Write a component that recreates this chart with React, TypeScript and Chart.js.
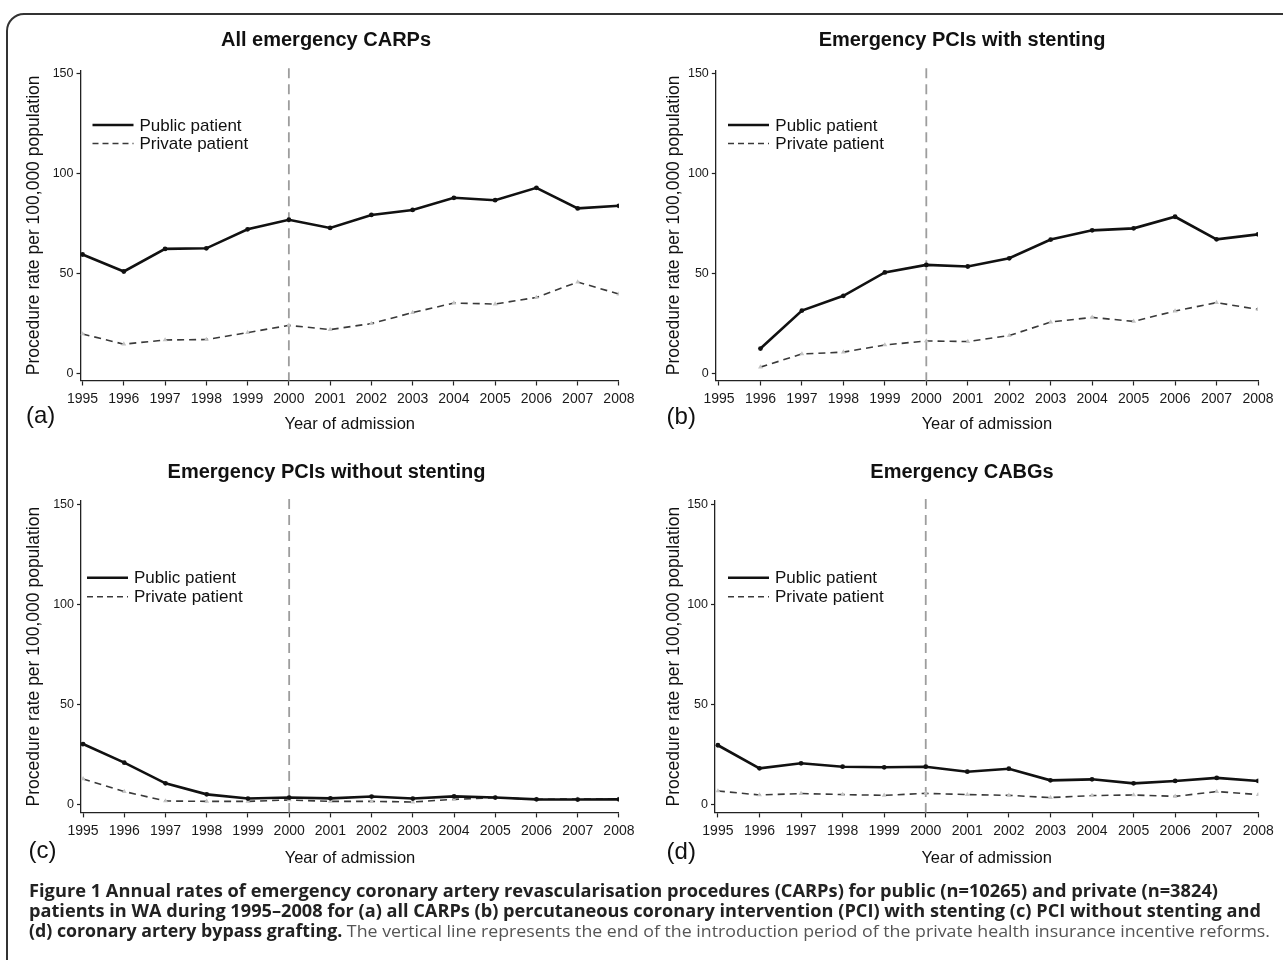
import React, { useEffect, useLayoutEffect, useRef } from 'react';
import { Chart, registerables } from 'chart.js';

Chart.register(...registerables);

// ---------- data ----------
const years = [1995, 1996, 1997, 1998, 1999, 2000, 2001, 2002, 2003, 2004, 2005, 2006, 2007, 2008];
const yTickValues = [0, 50, 100, 150];
const reformYear = 2000;

const allPublic = [59.4, 50.9, 62.2, 62.5, 72.0, 76.8, 72.7, 79.2, 81.7, 87.8, 86.6, 92.8, 82.5, 83.8];
const allPrivate = [19.6, 14.5, 16.6, 16.8, 20.3, 23.9, 21.8, 24.8, 30.3, 35.1, 34.6, 37.9, 45.6, 39.6];
const stentPublic = [null, 12.3, 31.3, 38.7, 50.4, 54.2, 53.4, 57.5, 66.9, 71.5, 72.5, 78.3, 67.0, 69.5];
const stentPrivate = [null, 3.0, 9.6, 10.5, 14.1, 16.1, 15.8, 18.8, 25.6, 27.9, 25.9, 31.1, 35.3, 31.9];
const noStentPublic = [30.4, 21.1, 10.8, 5.3, 3.2, 3.7, 3.3, 4.2, 3.2, 4.3, 3.7, 2.8, 2.7, 2.8];
const noStentPrivate = [13.0, 6.7, 2.0, 1.8, 1.8, 2.5, 1.8, 1.8, 1.5, 2.8, 3.7, 2.8, 3.0, 3.0];
const cabgPublic = [29.8, 18.3, 20.8, 19.1, 18.8, 19.1, 16.6, 18.1, 12.3, 12.8, 10.8, 12.0, 13.5, 12.0];
const cabgPrivate = [7.0, 5.0, 5.7, 5.2, 4.8, 5.8, 5.2, 4.8, 3.7, 4.7, 5.0, 4.3, 6.7, 5.2];

const seriesNames = ['Public patient', 'Private patient'];
const yAxisTitle = 'Procedure rate per 100,000 population';
const xAxisTitle = 'Year of admission';

const captionBold1 =
  'Figure 1 Annual rates of emergency coronary artery revascularisation procedures (CARPs) for public (n=10265) and private (n=3824)';
const captionBold2 =
  'patients in WA during 1995\u20132008 for (a) all CARPs (b) percutaneous coronary intervention (PCI) with stenting (c) PCI without stenting and';
const captionBold3 = '(d) coronary artery bypass grafting.';
const captionPlain3 =
  ' The vertical line represents the end of the introduction period of the private health insurance incentive reforms.';

// ---------- layout / style ----------
const FONT = '"Liberation Sans", Arial, Helvetica, sans-serif';
const Y_MIN = -3.7;
const Y_MAX = 151.7;

type PanelCfg = {
  title: string;
  letter: string;
  pub: (number | null)[];
  priv: (number | null)[];
  left: number;
  top: number;
  width: number;
  height: number;
  yWidth: number;
  padTop: number;
  padRight: number;
  xHeight: number;
  xMin: number;
  xTitlePad: number;
  titleX: number;
  titleY: number;
  letterX: number;
  letterY: number;
  legend: { dx0: number; dx1: number; tx: number; dy0: number; gap: number };
};

const panels: PanelCfg[] = [
  {
    title: 'All emergency CARPs', letter: '(a)', pub: allPublic, priv: allPrivate,
    left: 0, top: 0, width: 640, height: 440, yWidth: 80.5, padTop: 70.2, padRight: 18.7,
    xHeight: 59.5, xMin: 1994.95, xTitlePad: 6.1, titleX: 326, titleY: 39, letterX: 26, letterY: 415,
    legend: { dx0: 12, dx1: 53, tx: 59, dy0: 54.8, gap: 18.5 },
  },
  {
    title: 'Emergency PCIs with stenting', letter: '(b)', pub: stentPublic, priv: stentPrivate,
    left: 640, top: 0, width: 643, height: 440, yWidth: 75.8, padTop: 70.2, padRight: 25,
    xHeight: 59.5, xMin: 1994.923, xTitlePad: 6.1, titleX: 962, titleY: 39, letterX: 666.6, letterY: 415.5,
    legend: { dx0: 12.2, dx1: 53.2, tx: 59.5, dy0: 54.8, gap: 18.5 },
  },
  {
    title: 'Emergency PCIs without stenting', letter: '(c)', pub: noStentPublic, priv: noStentPrivate,
    left: 0, top: 440, width: 640, height: 440, yWidth: 81, padTop: 60.9, padRight: 18.7,
    xHeight: 67.6, xMin: 1994.95, xTitlePad: 11.6, titleX: 326.5, titleY: 470.7, letterX: 28.6, letterY: 850,
    legend: { dx0: 6, dx1: 47, tx: 53, dy0: 76.8, gap: 19 },
  },
  {
    title: 'Emergency CABGs', letter: '(d)', pub: cabgPublic, priv: cabgPrivate,
    left: 640, top: 440, width: 643, height: 440, yWidth: 75, padTop: 60.9, padRight: 24.7,
    xHeight: 67.6, xMin: 1994.93, xTitlePad: 11.6, titleX: 962, titleY: 470.7, letterX: 666.6, letterY: 851,
    legend: { dx0: 13, dx1: 54, tx: 60, dy0: 76.8, gap: 19 },
  },
];

const toPoints = (vals: (number | null)[]) =>
  years.map((yr, i) => ({ x: yr, y: vals[i] })).filter((p) => p.y !== null);

// ---------- plugins ----------
const reformLine = {
  id: 'reformLine',
  beforeDatasetsDraw(chart: any) {
    const { ctx, chartArea, scales } = chart;
    const px = scales.x.getPixelForValue(reformYear);
    ctx.save();
    ctx.strokeStyle = '#9d9d9d';
    ctx.lineWidth = 1.8;
    ctx.setLineDash([10, 6]);
    ctx.beginPath();
    ctx.moveTo(px, chartArea.top - 2);
    ctx.lineTo(px, chartArea.bottom);
    ctx.stroke();
    ctx.restore();
  },
};

const panelLegend = {
  id: 'panelLegend',
  afterDraw(chart: any, _args: any, opts: any) {
    const { ctx, chartArea } = chart;
    ctx.save();
    chart.data.datasets.forEach((ds: any, i: number) => {
      const y = chartArea.top + opts.dy0 + i * opts.gap;
      ctx.beginPath();
      ctx.setLineDash(ds.legendDash || []);
      ctx.lineWidth = ds.borderWidth;
      ctx.strokeStyle = ds.borderColor;
      ctx.moveTo(chartArea.left + opts.dx0, y);
      ctx.lineTo(chartArea.left + opts.dx1, y);
      ctx.stroke();
      ctx.setLineDash([]);
      ctx.fillStyle = '#111';
      ctx.font = `17px ${FONT}`;
      ctx.textBaseline = 'middle';
      ctx.textAlign = 'left';
      ctx.fillText(ds.label, chartArea.left + opts.tx, y + 1);
    });
    ctx.restore();
  },
};

// ---------- components ----------
function Panel({ cfg }: { cfg: PanelCfg }) {
  const ref = useRef<HTMLCanvasElement>(null);

  useEffect(() => {
    if (!ref.current) return;
    const chart = new Chart(ref.current, {
      type: 'line',
      data: {
        datasets: [
          {
            label: seriesNames[0],
            data: toPoints(cfg.pub),
            borderColor: '#111111',
            borderWidth: 2.6,
            pointRadius: 2.4,
            pointBackgroundColor: '#111111',
            pointBorderWidth: 0,
            tension: 0,
          } as any,
          {
            label: seriesNames[1],
            data: toPoints(cfg.priv),
            borderColor: '#3a3a3a',
            borderWidth: 1.6,
            borderDash: [7, 5],
            legendDash: [6, 4],
            pointStyle: 'triangle',
            pointRadius: 2.8,
            pointBackgroundColor: '#c4c4c4',
            pointBorderColor: '#c4c4c4',
            pointBorderWidth: 0,
            tension: 0,
          } as any,
        ],
      },
      options: {
        animation: false,
        responsive: false,
        events: [],
        layout: {
          autoPadding: false,
          padding: { left: 0, top: cfg.padTop, right: cfg.padRight, bottom: 0 },
        },
        plugins: {
          legend: { display: false },
          tooltip: { enabled: false },
          title: { display: false },
          panelLegend: cfg.legend,
        } as any,
        scales: {
          x: {
            type: 'linear',
            min: cfg.xMin,
            max: years[years.length - 1],
            afterBuildTicks: (s: any) => {
              s.ticks = years.map((v) => ({ value: v }));
            },
            afterFit: (s: any) => {
              s.height = cfg.xHeight;
            },
            ticks: {
              autoSkip: false,
              maxRotation: 0,
              minRotation: 0,
              padding: 5.5,
              color: '#1a1a1a',
              font: { family: FONT, size: 14 },
              callback: (v: any) => String(v),
            },
            grid: {
              drawOnChartArea: false,
              drawTicks: true,
              tickLength: 5,
              tickColor: '#222',
              tickWidth: 1.2,
            },
            border: { display: true, color: '#222', width: 1.3 },
            title: {
              display: true,
              text: xAxisTitle,
              color: '#111',
              font: { family: FONT, size: 16.5 },
              padding: { top: 0, bottom: cfg.xTitlePad },
            },
          },
          y: {
            type: 'linear',
            min: Y_MIN,
            max: Y_MAX,
            afterBuildTicks: (s: any) => {
              s.ticks = yTickValues.map((v) => ({ value: v }));
            },
            afterFit: (s: any) => {
              s.width = cfg.yWidth;
            },
            ticks: {
              padding: 3,
              color: '#1a1a1a',
              font: { family: FONT, size: 12.5 },
              callback: (v: any) => String(v),
            },
            grid: {
              drawOnChartArea: false,
              drawTicks: true,
              tickLength: 4,
              tickColor: '#222',
              tickWidth: 1.2,
            },
            border: { display: true, color: '#222', width: 1.3 },
            title: {
              display: true,
              text: yAxisTitle,
              color: '#111',
              font: { family: FONT, size: 17.5 },
              padding: { top: 23.5, bottom: 0 },
            },
          },
        },
      },
      plugins: [reformLine, panelLegend],
    } as any);
    return () => chart.destroy();
  }, [cfg]);

  return (
    <>
      <canvas
        ref={ref}
        width={cfg.width}
        height={cfg.height}
        style={{ position: 'absolute', left: cfg.left, top: cfg.top, width: cfg.width, height: cfg.height }}
      />
      <div
        style={{
          position: 'absolute',
          left: cfg.titleX - 300,
          width: 600,
          top: cfg.titleY - 12,
          lineHeight: '24px',
          textAlign: 'center',
          fontFamily: FONT,
          fontWeight: 'bold',
          fontSize: 20,
          color: '#111',
          whiteSpace: 'nowrap',
        }}
      >
        {cfg.title}
      </div>
      <div
        style={{
          position: 'absolute',
          left: cfg.letterX,
          top: cfg.letterY - 15,
          lineHeight: '30px',
          fontFamily: FONT,
          fontSize: 24,
          color: '#111',
          whiteSpace: 'nowrap',
        }}
      >
        {cfg.letter}
      </div>
    </>
  );
}

const CAPTION_LEFT = 29;
const captionTops = [881, 901, 921];
const captionWidths = [1189, 1232, 1241];

function Caption() {
  const refs = useRef<(HTMLDivElement | null)[]>([]);

  useLayoutEffect(() => {
    const fit = () => {
      refs.current.forEach((el, i) => {
        if (!el) return;
        el.style.transform = 'none';
        const w = el.getBoundingClientRect().width;
        if (w > 0) el.style.transform = `scaleX(${captionWidths[i] / w})`;
      });
    };
    fit();
    if ((document as any).fonts && (document as any).fonts.ready) {
      (document as any).fonts.ready.then(fit);
    }
  }, []);

  const base: React.CSSProperties = {
    position: 'absolute',
    left: CAPTION_LEFT,
    display: 'inline-block',
    whiteSpace: 'nowrap',
    fontFamily: '"Open Sans", "Noto Sans", sans-serif',
    fontSize: 17,
    lineHeight: '20px',
    transformOrigin: '0 50%',
  };
  const bold: React.CSSProperties = { fontWeight: 700, color: '#222' };
  const plain: React.CSSProperties = { fontWeight: 400, color: '#555' };

  return (
    <>
      <div ref={(el) => { refs.current[0] = el; }} style={{ ...base, top: captionTops[0] }}>
        <span style={bold}>{captionBold1}</span>
      </div>
      <div ref={(el) => { refs.current[1] = el; }} style={{ ...base, top: captionTops[1] }}>
        <span style={bold}>{captionBold2}</span>
      </div>
      <div ref={(el) => { refs.current[2] = el; }} style={{ ...base, top: captionTops[2] }}>
        <span style={bold}>{captionBold3}</span>
        <span style={plain}>{captionPlain3}</span>
      </div>
    </>
  );
}

export default function App() {
  return (
    <div
      style={{
        position: 'fixed',
        left: 0,
        top: 0,
        width: '100vw',
        height: '100vh',
        overflow: 'hidden',
        background: '#fff',
      }}
    >
      <div
        style={{
          position: 'absolute',
          left: 6,
          top: 12.5,
          width: 1320,
          height: 1000,
          border: '2px solid #333',
          borderRadius: 18,
          boxSizing: 'border-box',
        }}
      />
      {panels.map((p) => (
        <Panel key={p.letter} cfg={p} />
      ))}
      <Caption />
    </div>
  );
}
